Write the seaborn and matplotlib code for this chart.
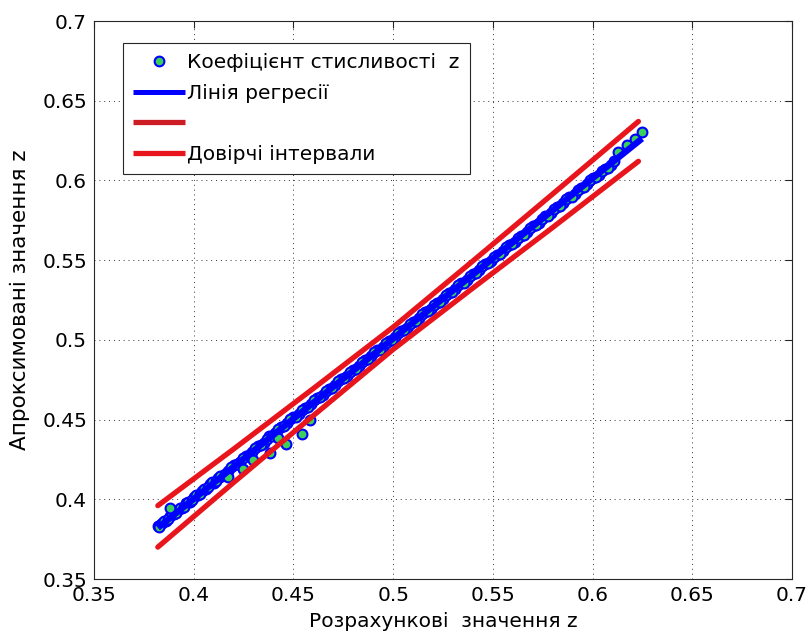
import numpy as np
import pandas as pd
import matplotlib
matplotlib.use("Agg")
import matplotlib.pyplot as plt
from matplotlib.lines import Line2D
from matplotlib.ticker import FuncFormatter
import seaborn as sns

# Calculated vs. approximated compressibility factor z
z_calc = [
    0.382, 0.383, 0.384, 0.386, 0.388, 0.390, 0.392, 0.394, 0.396, 0.398,
    0.400, 0.402, 0.404, 0.406, 0.408, 0.410, 0.412, 0.414, 0.417, 0.420,
    0.423, 0.426, 0.429, 0.432, 0.435, 0.438, 0.441, 0.444, 0.447, 0.450,
    0.453, 0.456, 0.459, 0.462, 0.465, 0.468, 0.471, 0.474, 0.477, 0.480,
    0.483, 0.486, 0.489, 0.492, 0.495, 0.498, 0.501, 0.504, 0.507, 0.510,
    0.513, 0.516, 0.519, 0.522, 0.525, 0.528, 0.531, 0.534, 0.537, 0.540,
    0.543, 0.546, 0.549, 0.552, 0.555, 0.558, 0.561, 0.564, 0.567, 0.570,
    0.573, 0.576, 0.579, 0.582, 0.585, 0.588, 0.591, 0.594, 0.597, 0.600,
    0.603, 0.606, 0.609,
    0.3825, 0.385, 0.387, 0.389, 0.391, 0.393, 0.395, 0.397, 0.399, 0.401,
    0.403, 0.405, 0.407, 0.409, 0.411, 0.413, 0.4155, 0.4185, 0.4215, 0.4245,
    0.4275, 0.4305, 0.4335, 0.4365, 0.4395, 0.4425, 0.4455, 0.4485, 0.4515, 0.4545,
    0.4575, 0.4605, 0.4635, 0.4665, 0.4695, 0.4725, 0.4755, 0.4785, 0.4815, 0.4845,
    0.4875, 0.4905, 0.4935, 0.4965, 0.4995, 0.5025, 0.5055, 0.5085, 0.5115, 0.5145,
    0.5175, 0.5205, 0.5235, 0.5265, 0.5295, 0.5325, 0.5355, 0.5385, 0.5415, 0.5445,
    0.5475, 0.5505, 0.5535, 0.5565, 0.5595, 0.5625, 0.5655, 0.5685, 0.5715, 0.5745,
    0.5775, 0.5805, 0.5835, 0.5865, 0.5895, 0.5925, 0.5955, 0.5985, 0.6015, 0.6045,
    0.6075, 0.6105,
    0.6128, 0.6173, 0.6213, 0.6248,
    0.3881, 0.4172, 0.4247, 0.4297, 0.4383, 0.4423, 0.4463, 0.4543, 0.4583,
]
z_approx = [
    0.3834, 0.3837, 0.3852, 0.3866, 0.3893, 0.3906, 0.3933, 0.3946, 0.3974, 0.3985,
    0.4014, 0.4027, 0.4054, 0.4066, 0.4094, 0.4105, 0.4134, 0.4146, 0.4176, 0.4214,
    0.4236, 0.4274, 0.4296, 0.4334, 0.4356, 0.4394, 0.4416, 0.4454, 0.4476, 0.4514,
    0.4536, 0.4574, 0.4596, 0.4634, 0.4656, 0.4694, 0.4716, 0.4754, 0.4776, 0.4814,
    0.4836, 0.4874, 0.4896, 0.4934, 0.4956, 0.4994, 0.5016, 0.5054, 0.5076, 0.5114,
    0.5136, 0.5174, 0.5196, 0.5234, 0.5256, 0.5294, 0.5316, 0.5354, 0.5376, 0.5414,
    0.5436, 0.5474, 0.5496, 0.5534, 0.5556, 0.5594, 0.5616, 0.5654, 0.5676, 0.5714,
    0.5736, 0.5774, 0.5796, 0.5834, 0.5856, 0.5894, 0.5916, 0.5954, 0.5976, 0.6014,
    0.6036, 0.6074, 0.6096,
    0.3828, 0.3866, 0.3874, 0.3906, 0.3914, 0.3946, 0.3954, 0.3986, 0.3994, 0.4026,
    0.4034, 0.4066, 0.4074, 0.4106, 0.4114, 0.4146, 0.4159, 0.4201, 0.4219, 0.4261,
    0.4279, 0.4321, 0.4339, 0.4381, 0.4399, 0.4441, 0.4459, 0.4501, 0.4519, 0.4561,
    0.4579, 0.4621, 0.4639, 0.4681, 0.4699, 0.4741, 0.4759, 0.4801, 0.4819, 0.4861,
    0.4879, 0.4921, 0.4939, 0.4981, 0.4999, 0.5041, 0.5059, 0.5101, 0.5119, 0.5161,
    0.5179, 0.5221, 0.5239, 0.5281, 0.5299, 0.5341, 0.5359, 0.5401, 0.5419, 0.5461,
    0.5479, 0.5521, 0.5539, 0.5581, 0.5599, 0.5641, 0.5659, 0.5701, 0.5719, 0.5761,
    0.5779, 0.5821, 0.5839, 0.5881, 0.5899, 0.5941, 0.5959, 0.6001, 0.6019, 0.6061,
    0.6079, 0.6121,
    0.6179, 0.6223, 0.6260, 0.6304,
    0.3944, 0.4140, 0.4190, 0.4246, 0.4290, 0.4385, 0.4347, 0.4410, 0.4497,
]

# Confidence interval bounds of the regression line
ci_x = [0.382, 0.42, 0.46, 0.50, 0.54, 0.58, 0.623]
ci_upper = [0.396, 0.4315, 0.4695, 0.508, 0.5495, 0.5915, 0.637]
ci_lower = [0.370, 0.4105, 0.4525, 0.494, 0.5325, 0.5705, 0.612]

x_ticks = [0.35, 0.4, 0.45, 0.5, 0.55, 0.6, 0.65, 0.7]
y_ticks = [0.35, 0.4, 0.45, 0.5, 0.55, 0.6, 0.65, 0.7]

labels = ["Коефіцієнт стисливості  z", "Лінія регресії", "", "Довірчі інтервали"]

BLUE = "#0000ff"
GREEN = "#3ccf5a"
RED = "#e8161c"
RED_DARK = "#cc1c24"
FS = 14.5

sns.set_style("white")
plt.rcParams["font.family"] = ["DejaVu Sans"]
plt.rcParams["text.color"] = "black"
plt.rcParams["axes.labelcolor"] = "black"

fig = plt.figure(figsize=(8.09, 6.37), dpi=100)
ax = fig.add_axes([94 / 809, 58 / 637, 698 / 809, 558 / 637])

df = pd.DataFrame({"calc": z_calc, "approx": z_approx})

sns.scatterplot(data=df, x="calc", y="approx", ax=ax, marker="o", s=50,
                color=GREEN, edgecolor=BLUE, linewidth=1.5, zorder=2)
sns.regplot(data=df, x="calc", y="approx", ax=ax, scatter=False, ci=None,
            truncate=True,
            line_kws=dict(color=BLUE, lw=4.6, zorder=3, solid_capstyle="butt"))
sns.lineplot(x=ci_x, y=ci_upper, ax=ax, color=RED, lw=3.8, zorder=4,
             estimator=None, sort=False)
sns.lineplot(x=ci_x, y=ci_lower, ax=ax, color=RED, lw=3.8, zorder=4,
             estimator=None, sort=False)

ax.set_xlim(0.35, 0.7)
ax.set_ylim(0.35, 0.7)
ax.set_xticks(x_ticks)
ax.set_yticks(y_ticks)
fmt = FuncFormatter(lambda v, p: f"{v:g}")
ax.xaxis.set_major_formatter(fmt)
ax.yaxis.set_major_formatter(fmt)
ax.tick_params(direction="in", length=5, width=0.8, top=True, right=True,
               labelsize=FS, pad=5, color="#262626", labelcolor="black")
ax.set_axisbelow(True)
ax.grid(True, linestyle=(0, (1, 4)), linewidth=0.7, color="#333333")
for sp in ax.spines.values():
    sp.set_color("#262626")
    sp.set_linewidth(0.8)

ax.set_xlabel("Розрахункові  значення z", fontsize=FS, labelpad=5)
ax.set_ylabel("Апроксимовані значення z", fontsize=15.5, labelpad=9)

handles = [
    Line2D([], [], marker="o", linestyle="none", markerfacecolor=GREEN,
           markeredgecolor=BLUE, markersize=7, markeredgewidth=1.5),
    Line2D([], [], color=BLUE, lw=3.6, solid_capstyle="butt"),
    Line2D([], [], color=RED_DARK, lw=3.8, solid_capstyle="butt"),
    Line2D([], [], color=RED, lw=3.8, solid_capstyle="butt"),
]
leg = ax.legend(handles, labels, loc="upper left",
                bbox_to_anchor=(29 / 698, (579 - 43) / 558),
                fontsize=FS, frameon=True, fancybox=False, shadow=False,
                framealpha=1, edgecolor="#262626", borderpad=0.5,
                labelspacing=0.58, handlelength=2.6, handletextpad=0.1,
                borderaxespad=0)
leg.get_frame().set_linewidth(0.8)
for t in leg.get_texts():
    t.set_color("black")

fig.savefig("out.png", dpi=100, facecolor="white")
